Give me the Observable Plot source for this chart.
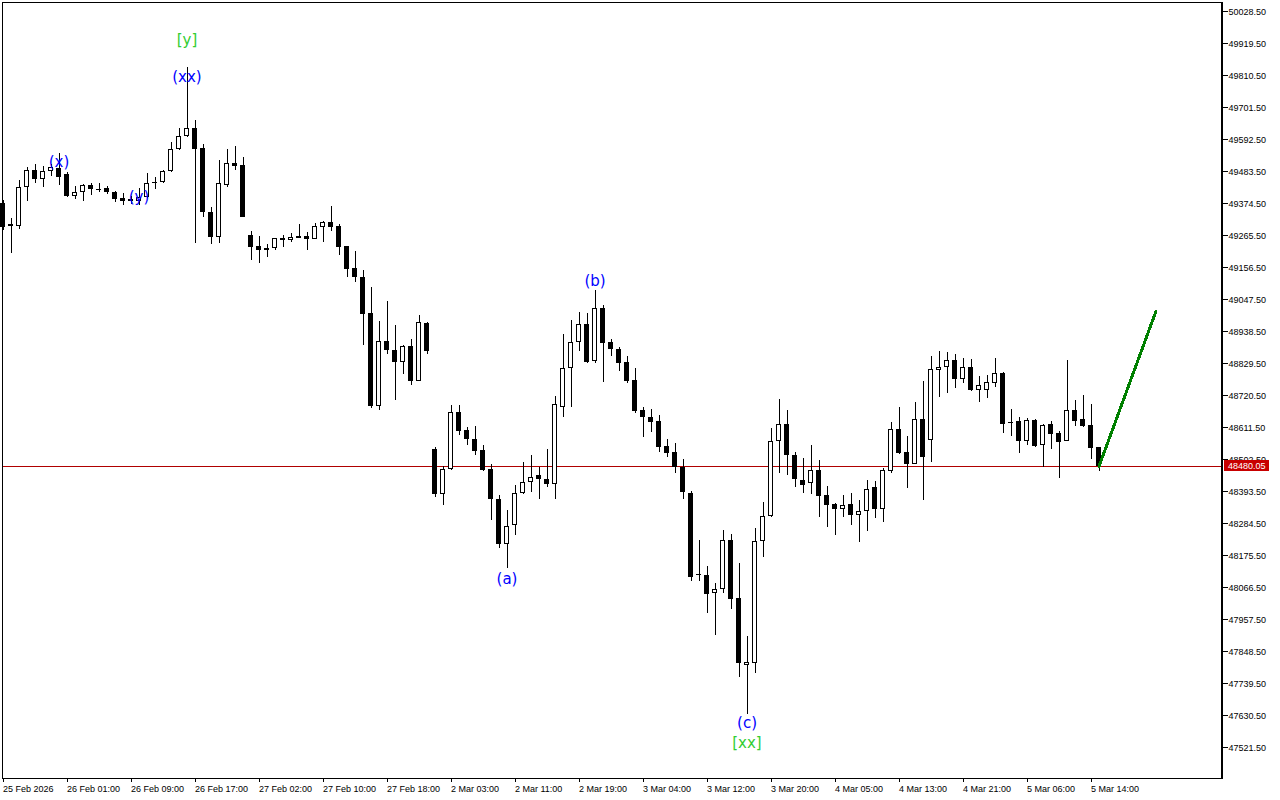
<!DOCTYPE html>
<html><head><meta charset="utf-8">
<script src="https://cdn.jsdelivr.net/npm/d3@7"></script>
<script src="https://cdn.jsdelivr.net/npm/@observablehq/plot@0.6"></script>
<style>
html,body{margin:0;padding:0;background:#fff;}
#chart svg{display:block;}
</style></head><body><div id="chart"></div>
<script>
// Hourly candles (bar index 0 = 25 Feb 2026 ...)
const opens = [49377,49296,49298,49429,49487,49456,49484,49495,49474,49398,49412,49438,49424,49427,49414,49393,49382,49382,49395,49447,
49447,49484,49559,49603,49630,49563,49344,49259,49436,49511,49504,49267,49229,49223,49221,49257,49251,49262,49264,49254,
49295,49311,49297,49229,49154,49124,49001,48685,48906,48875,48835,48887,48770,48967,48537,48385,48469,48664,48602,48572,
48534,48470,48367,48215,48278,48387,48424,48448,48434,48417,48680,48813,48902,48963,48836,49017,48902,48877,48833,48773,
48670,48648,48633,48548,48527,48475,48387,48112,48107,48046,48060,48229,48030,47803,47810,48223,48309,48566,48623,48516,
48432,48423,48466,48380,48350,48332,48350,48314,48325,48407,48334,48464,48606,48526,48488,48640,48569,48808,48817,48840,
48776,48817,48738,48738,48762,48797,48631,48632,48564,48636,48550,48623,48591,48566,48670,48640,48619,48543];
const highs = [49386,49323,49454,49498,49508,49502,49508,49545,49482,49433,49439,49445,49443,49433,49417,49409,49399,49427,49477,49463,
49488,49583,49630,49840,49658,49577,49363,49522,49559,49570,49533,49280,49263,49237,49256,49267,49273,49305,49277,49306,
49314,49364,49303,49230,49212,49146,49089,48974,49042,48960,48892,48912,48994,48971,48543,48480,48686,48689,48614,48616,
48552,48487,48381,48330,48414,48493,48516,48475,48537,48718,48929,48977,49004,49000,49079,49029,48911,48884,48854,48814,
48682,48673,48654,48573,48559,48503,48394,48229,48139,48080,48262,48248,48148,47901,48269,48357,48609,48707,48670,48527,
48507,48552,48500,48412,48355,48380,48387,48364,48432,48428,48473,48630,48681,48583,48697,48769,48853,48871,48867,48860,
48847,48844,48785,48790,48847,48801,48673,48648,48643,48641,48623,48634,48600,48841,48705,48723,48691,48545];
const lows = [49284,49204,49286,49383,49443,49431,49468,49436,49396,49390,49383,49404,49413,49406,49379,49370,49372,49369,49394,49424,
49443,49482,49557,49599,49240,49327,49236,49240,49431,49488,49327,49182,49172,49192,49217,49226,49244,49256,49217,49253,
49244,49281,49198,49125,49108,48892,48676,48669,48862,48706,48794,48756,48769,48862,48373,48346,48467,48584,48550,48518,
48464,48296,48200,48132,48244,48385,48391,48366,48407,48368,48646,48682,48870,48832,48832,48767,48854,48802,48761,48661,
48580,48596,48527,48509,48457,48366,48087,48087,47980,47905,48046,47992,47762,47635,47774,48171,48307,48455,48450,48409,
48389,48384,48307,48273,48246,48307,48280,48221,48259,48303,48289,48455,48522,48406,48486,48363,48492,48715,48728,48746,
48762,48735,48699,48712,48749,48592,48582,48523,48550,48543,48477,48539,48439,48564,48616,48613,48505,48464];
const closes = [49293,49303,49429,49487,49456,49484,49497,49464,49398,49412,49438,49424,49421,49412,49390,49381,49389,49396,49443,49443,
49484,49559,49603,49630,49561,49346,49259,49443,49511,49502,49329,49227,49217,49217,49255,49251,49260,49257,49254,49297,
49311,49295,49227,49152,49125,48999,48683,48905,48874,48835,48887,48770,48969,48872,48385,48469,48664,48600,48571,48532,
48465,48368,48214,48275,48387,48424,48441,48434,48417,48690,48813,48902,48963,48833,49017,48898,48877,48832,48768,48667,
48646,48631,48545,48525,48475,48390,48101,48107,48045,48060,48229,48028,47808,47812,48223,48309,48564,48623,48518,48436,
48416,48466,48378,48348,48334,48348,48314,48325,48400,48334,48466,48605,48524,48488,48640,48510,48810,48817,48840,48776,
48817,48740,48756,48765,48797,48624,48625,48564,48636,48548,48620,48589,48561,48670,48634,48616,48541,48480.05];

const timeTickBars = [0,8,16,24,32,40,48,56,64,72,80,88,96,104,112,120,128,136];
const timeTickLabels = ["25 Feb 2026","26 Feb 01:00","26 Feb 09:00","26 Feb 17:00","27 Feb 02:00","27 Feb 10:00",
"27 Feb 18:00","2 Mar 03:00","2 Mar 11:00","2 Mar 19:00","3 Mar 04:00","3 Mar 12:00","3 Mar 20:00","4 Mar 05:00",
"4 Mar 13:00","4 Mar 21:00","5 Mar 06:00","5 Mar 14:00"];
const priceTicks = [50028.5,49919.5,49810.5,49701.5,49592.5,49483.5,49374.5,49265.5,49156.5,49047.5,48938.5,48829.5,
48720.5,48611.5,48502.5,48393.5,48284.5,48175.5,48066.5,47957.5,47848.5,47739.5,47630.5,47521.5];

const waveText = ["[y]","(xx)","(x)","(y)","(b)","(a)","(c)","[xx]"];
const waveBar = [23,23,7,17,74,63,93,93];
const wavePrice = [49931,49805,49515,49396,49110,48095,47604,47536];
const waveColor = ["#32cd32","#0000ff","#0000ff","#0000ff","#0000ff","#0000ff","#0000ff","#32cd32"];

const forecastBar = [137,144.1];
const forecastPrice = [48480.05,49007];
const lastPrice = 48480.05;

const candles = opens.map((o,i)=>({i, o, h:highs[i], l:lows[i], c:closes[i], up: closes[i] >= o}));
const waves = waveText.map((t,k)=>({t, b:waveBar[k], p:wavePrice[k], col:waveColor[k]}));
const forecast = forecastBar.map((b,k)=>({b, p:forecastPrice[k]}));

const half = 0.3125;
const chart = Plot.plot({
  width:1280, height:800,
  marginLeft:2, marginRight:58, marginTop:2, marginBottom:22,
  style:{fontFamily:"'Liberation Sans', Arial, sans-serif", fontSize:"9px", background:"#fff", color:"#000", shapeRendering:"crispEdges", overflow:"visible"},
  x:{domain:[-0.0625,152.4375], axis:null},
  y:{domain:[47416.94,50060.19], axis:null},
  marks:[
    Plot.ruleY([lastPrice], {stroke:"#b00000", strokeWidth:1}),
    Plot.ruleX(candles, {x:"i", y1:"l", y2:"h", stroke:"#000", strokeWidth:1}),
    Plot.rect(candles.filter(d=>!d.up), {x1:d=>d.i-half, x2:d=>d.i+half, y1:"o", y2:"c", fill:"#000"}),
    Plot.rect(candles.filter(d=>d.up), {x1:d=>d.i-half, x2:d=>d.i+half, y1:"o", y2:"c", fill:"#fff", stroke:"#000", strokeWidth:1, inset:0.5}),
    Plot.line(forecast, {x:"b", y:"p", stroke:"#008000", strokeWidth:3}),
    Plot.text(waves, {x:"b", y:"p", text:"t", fill:"col", fontSize:15, fontFamily:"'DejaVu Sans', sans-serif"}),
    Plot.frame({stroke:"#000"}),
    Plot.axisX(timeTickBars, {tickSize:4, tickPadding:3, textAnchor:"start", fontSize:9,
      tickFormat:d=>timeTickLabels[timeTickBars.indexOf(d)]}),
    Plot.axisY(priceTicks, {anchor:"right", tickSize:5, tickPadding:1, fontSize:9, tickFormat:d=>d.toFixed(2)})
  ]
});
document.getElementById("chart").appendChild(chart);

// right axis line and current price tag
const ys = chart.scale("y");
const yy = Math.round(ys.apply(lastPrice));
const svg = d3.select(chart);
svg.append("rect").attr("x",1221).attr("y",2).attr("width",2).attr("height",776).attr("fill","#000");
svg.append("rect").attr("x",1224).attr("y",yy-6).attr("width",45).attr("height",11).attr("fill","#c80000");
svg.append("text").attr("x",1228).attr("y",yy).attr("dy","0.35em").attr("fill","#fff")
  .attr("text-anchor","start")
  .attr("font-size",9).attr("font-family","'Liberation Sans', Arial, sans-serif").text(lastPrice.toFixed(2));
</script></body></html>
